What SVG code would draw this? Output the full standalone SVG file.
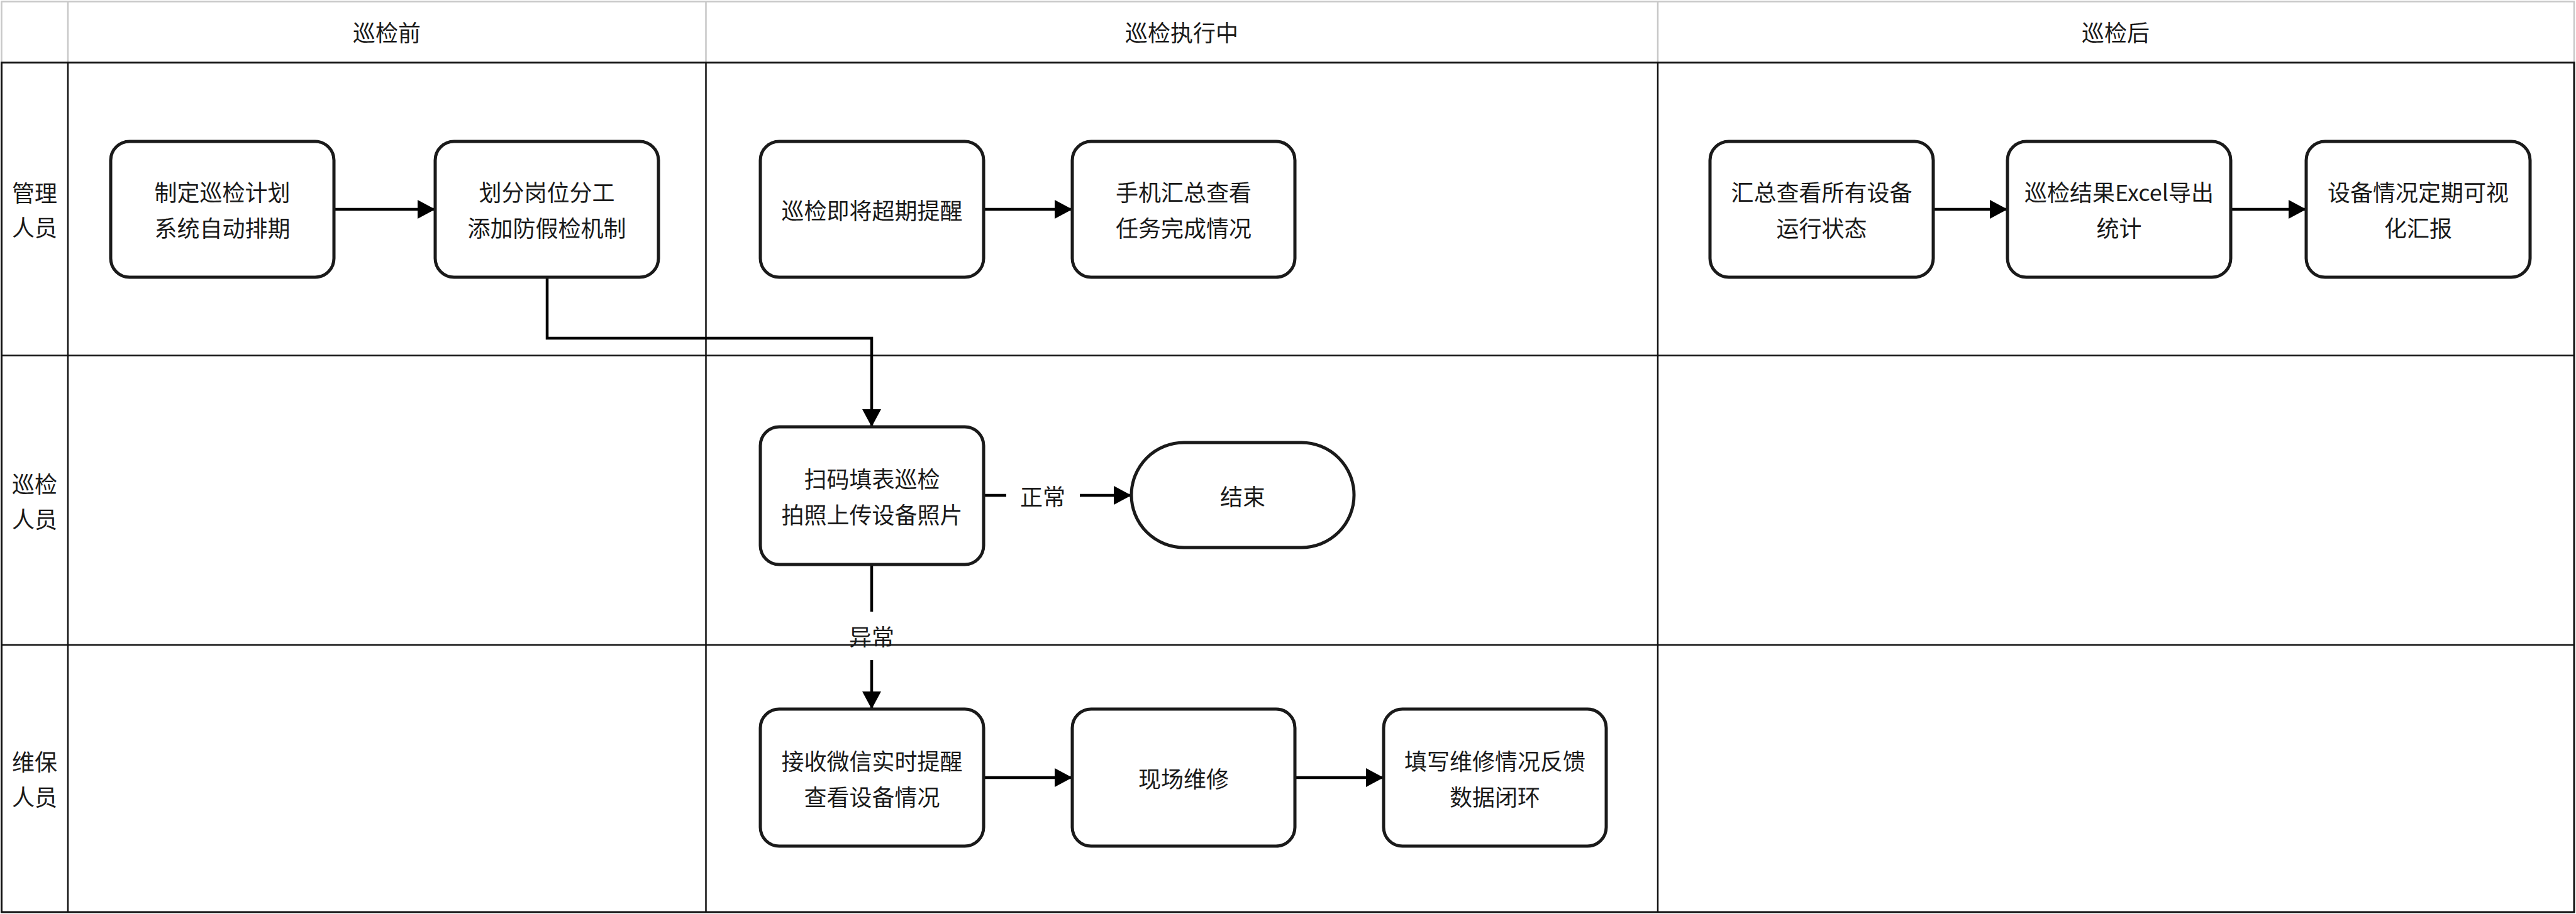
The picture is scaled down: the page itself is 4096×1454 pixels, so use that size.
<svg xmlns="http://www.w3.org/2000/svg" width="4096" height="1454" viewBox="0 0 4096 1454">
<defs>
<style>
.hdr{stroke:#c8c8c8;stroke-width:2.5;fill:none}
.grid{stroke:#111;stroke-width:2.5;fill:none}
.outer{stroke:#111;stroke-width:3;fill:none}
.node{fill:#fff;stroke:#1a1a1a;stroke-width:5}
.t{font-family:"Noto Sans CJK SC","Noto Sans",sans-serif;font-size:36px;fill:#1a1a1a;text-anchor:middle;dominant-baseline:central}
.edge{stroke:#000;stroke-width:4.5;fill:none}
</style>
<marker id="arr" viewBox="0 0 28 30" refX="28" refY="15" markerWidth="28" markerHeight="30" markerUnits="userSpaceOnUse" orient="auto">
<path d="M0,0 L28,15 L0,30 Z" fill="#000"/>
</marker>
</defs>
<rect x="0" y="0" width="4096" height="1454" fill="#fff"/>
<g id="table">
<path class="hdr" d="M2.5,99.5 V2.5 H4093 V99.5 M108,2.5 V99.5 M1122.5,2.5 V99.5 M2636,2.5 V99.5"/>
<rect class="outer" x="2.5" y="99.5" width="4090.5" height="1351.5"/>
<path class="grid" d="M2.5,565.5 H4093 M2.5,1026 H4093 M108,99.5 V1451 M1122.5,99.5 V1451 M2636,99.5 V1451"/>
<text class="t" x="615" y="50">巡检前</text>
<text class="t" x="1879" y="50">巡检执行中</text>
<text class="t" x="3364" y="50">巡检后</text>
<text class="t" x="55" y="305">管理</text>
<text class="t" x="55" y="360">人员</text>
<text class="t" x="55" y="768">巡检</text>
<text class="t" x="55" y="824">人员</text>
<text class="t" x="55" y="1210">维保</text>
<text class="t" x="55" y="1266">人员</text>
</g>
<g id="connectors">
<path class="edge" d="M531,333 H692" marker-end="url(#arr)"/>
<path class="edge" d="M1564,333 H1705" marker-end="url(#arr)"/>
<path class="edge" d="M3074,333 H3192" marker-end="url(#arr)"/>
<path class="edge" d="M3547,333 H3667" marker-end="url(#arr)"/>
<path class="edge" d="M870,441 V538 H1386 V679" marker-end="url(#arr)"/>
<path class="edge" d="M1564,788 H1600"/>
<path class="edge" d="M1717,788 H1799" marker-end="url(#arr)"/>
<text class="t" x="1658" y="788">正常</text>
<path class="edge" d="M1386,898 V973"/>
<path class="edge" d="M1386,1050 V1128" marker-end="url(#arr)"/>
<text class="t" x="1386" y="1011">异常</text>
<path class="edge" d="M1564,1237 H1705" marker-end="url(#arr)"/>
<path class="edge" d="M2059,1237 H2200" marker-end="url(#arr)"/>
</g>
<g id="n1"><rect class="node" x="176" y="225" width="355" height="216" rx="30"/><text class="t" x="353.5" y="304">制定巡检计划</text><text class="t" x="353.5" y="361">系统自动排期</text></g>
<g id="n2"><rect class="node" x="692" y="225" width="355" height="216" rx="30"/><text class="t" x="869.5" y="304">划分岗位分工</text><text class="t" x="869.5" y="361">添加防假检机制</text></g>
<g id="n3"><rect class="node" x="1209" y="225" width="355" height="216" rx="30"/><text class="t" x="1386.5" y="333">巡检即将超期提醒</text></g>
<g id="n4"><rect class="node" x="1705" y="225" width="354" height="216" rx="30"/><text class="t" x="1882" y="304">手机汇总查看</text><text class="t" x="1882" y="361">任务完成情况</text></g>
<g id="n5"><rect class="node" x="2719" y="225" width="355" height="216" rx="30"/><text class="t" x="2896.5" y="304">汇总查看所有设备</text><text class="t" x="2896.5" y="361">运行状态</text></g>
<g id="n6"><rect class="node" x="3192" y="225" width="355" height="216" rx="30"/><text class="t" x="3369.5" y="304">巡检结果Excel导出</text><text class="t" x="3369.5" y="361">统计</text></g>
<g id="n7"><rect class="node" x="3667" y="225" width="356" height="216" rx="30"/><text class="t" x="3845" y="304">设备情况定期可视</text><text class="t" x="3845" y="361">化汇报</text></g>
<g id="n8"><rect class="node" x="1209" y="679" width="355" height="219" rx="30"/><text class="t" x="1386.5" y="760">扫码填表巡检</text><text class="t" x="1386.5" y="817">拍照上传设备照片</text></g>
<g id="n9"><rect class="node" x="1799" y="704" width="354" height="167" rx="83.5"/><text class="t" x="1976" y="788">结束</text></g>
<g id="n10"><rect class="node" x="1209" y="1128" width="355" height="218" rx="30"/><text class="t" x="1386.5" y="1209">接收微信实时提醒</text><text class="t" x="1386.5" y="1266">查看设备情况</text></g>
<g id="n11"><rect class="node" x="1705" y="1128" width="354" height="218" rx="30"/><text class="t" x="1882" y="1237">现场维修</text></g>
<g id="n12"><rect class="node" x="2200" y="1128" width="354" height="218" rx="30"/><text class="t" x="2377" y="1209">填写维修情况反馈</text><text class="t" x="2377" y="1266">数据闭环</text></g>
</svg>
